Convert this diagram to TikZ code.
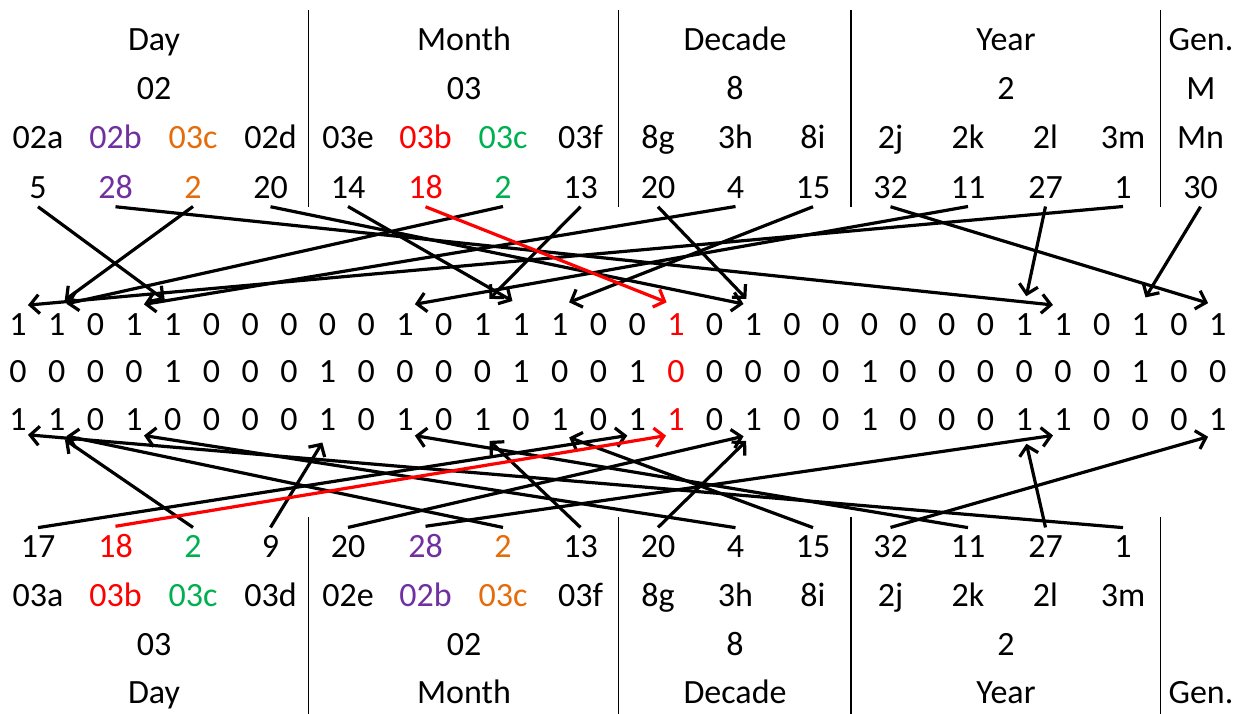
\documentclass[tikz,border=0pt]{standalone}
\usepackage{fontspec}
\setmainfont{Carlito}
\usetikzlibrary{arrows.meta}
\definecolor{cred}{RGB}{255,0,0}
\definecolor{cgreen}{RGB}{0,176,80}
\definecolor{cpurple}{RGB}{112,48,160}
\definecolor{corange}{RGB}{228,108,10}

\begin{document}
\begin{tikzpicture}[x=1pt,y=-1pt,
  txt/.style={font=\fontsize{34}{40}\selectfont, anchor=base, inner sep=0pt},
  num/.style={txt, outer sep=8pt},
  sep/.style={line width=1.8pt},
  link/.style={line width=3.2pt, -{Straight Barb[length=9pt,width=19pt]}, shorten >=10pt},
]
\useasboundingbox (0,0) rectangle (1241,714);

% column separators, top and bottom blocks
\foreach \sx in {308.5,618.5,851,1160.5}{
  \draw[sep] (\sx,10) -- (\sx,207);
  \draw[sep] (\sx,517) -- (\sx,714);
}

% top block: group headers and values
\foreach \h/\v/\hx in {Day/02/154, Month/03/464, Decade/8/735, Year/2/1006}{
  \node[txt] at (\hx,50.5) {\h};
  \node[txt] at (\hx,99.5) {\v};
}
\node[txt] (tgen) at (1201,50.5) {Gen.};
\node[txt] (tgenv) at (1201,99.5) {M};

% top block: labels and positions
\foreach \lab/\num/\col [count=\k from 0] in {
  02a/5/black, 02b/28/cpurple, 03c/2/corange, 02d/20/black,
  03e/14/black, 03b/18/cred, 03c/2/cgreen, 03f/13/black,
  8g/20/black, 3h/4/black, 8i/15/black,
  2j/32/black, 2k/11/black, 2l/27/black, 3m/1/black, Mn/30/black}{
  \node[txt, text=\col] (tl\k) at ({38+\k*77.5},148.5) {\lab};
  \node[num, text=\col] (tn\k) at ({38+\k*77.5},198.5) {\num};
}

% bottom block: labels and positions
\foreach \lab/\num/\col [count=\k from 0] in {
  03a/17/black, 03b/18/cred, 03c/2/cgreen, 03d/9/black,
  02e/20/black, 02b/28/cpurple, 03c/2/corange, 03f/13/black,
  8g/20/black, 3h/4/black, 8i/15/black,
  2j/32/black, 2k/11/black, 2l/27/black, 3m/1/black}{
  \node[num, text=\col] (bn\k) at ({38+\k*77.5},557.5) {\num};
  \node[txt, text=\col] (bl\k) at ({38+\k*77.5},606.5) {\lab};
}

% bottom block: group values and headers
\foreach \h/\v/\hx in {Day/03/154, Month/02/464, Decade/8/735, Year/2/1006}{
  \node[txt] at (\hx,655.5) {\v};
  \node[txt] at (\hx,703.5) {\h};
}
\node[txt] (bgen) at (1201,703.5) {Gen.};

% the three bit rows (bit 18 highlighted)
\foreach \b [count=\i] in {1,1,0,1,1,0,0,0,0,0,1,0,1,1,1,0,0,1,0,1,0,0,0,0,0,0,1,1,0,1,0,1}{
  \node[txt] (ra\i) at ({18+(\i-1)*38.7},335.5) {\ifnum\i=18 \color{cred}\fi\b};
  \coordinate (ua\i) at ({18+(\i-1)*38.7},306);
}
\foreach \b [count=\i] in {0,0,0,0,1,0,0,0,1,0,0,0,0,1,0,0,1,0,0,0,0,0,1,0,0,0,0,0,0,1,0,0}{
  \node[txt] (rb\i) at ({18+(\i-1)*38.7},382.5) {\ifnum\i=18 \color{cred}\fi\b};
}
\foreach \b [count=\i] in {1,1,0,1,0,0,0,0,1,0,1,0,1,0,1,0,1,1,0,1,0,0,1,0,0,0,1,1,0,0,0,1}{
  \node[txt] (rc\i) at ({18+(\i-1)*38.7},430.5) {\ifnum\i=18 \color{cred}\fi\b};
  \coordinate (dc\i) at ({18+(\i-1)*38.7},434);
}

% positions of the top block point into the first bit row
\foreach \k/\n in {0/5,1/28,2/2,3/20,4/14,6/2,7/13,8/20,9/4,10/15,11/32,12/11,13/27,14/1,15/30}{
  \draw[link] (tn\k.south) -- (ua\n);
}
\draw[link, cred] (tn5.south) -- (ua18);

% positions of the bottom block point into the third bit row
\foreach \k/\n in {0/17,2/2,3/9,4/20,5/28,6/2,7/13,8/20,9/4,10/15,11/32,12/11,13/27,14/1}{
  \draw[link] (bn\k.north) -- (dc\n);
}
\draw[link, cred] (bn1.north) -- (dc18);
\end{tikzpicture}
\end{document}
